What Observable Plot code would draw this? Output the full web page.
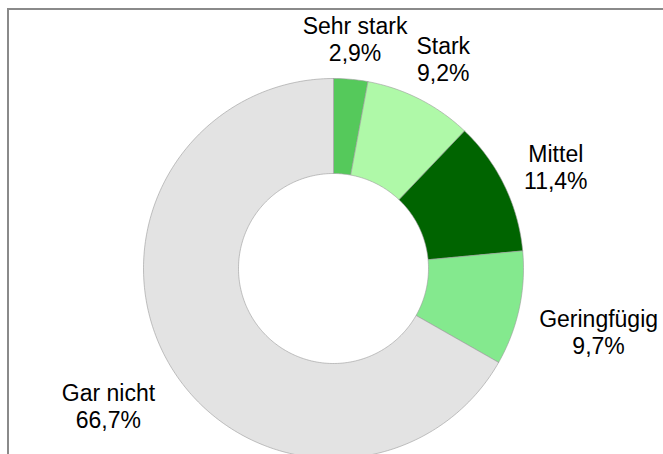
<!DOCTYPE html>
<html>
<head>
<meta charset="utf-8">
<script src="https://cdn.jsdelivr.net/npm/d3@7"></script>
<script src="https://cdn.jsdelivr.net/npm/@observablehq/plot@0.6"></script>
<style>
  html, body { margin: 0; padding: 0; background: #fff; }
  #wrap { position: relative; width: 663px; height: 454px; overflow: hidden; }
  #wrap svg { position: absolute; left: 0; top: 0; }
  #frame { position: absolute; left: 7px; top: 8px; width: 800px; height: 600px;
           border-left: 2px solid #8a8a8a; border-top: 2px solid #8a8a8a; pointer-events: none; }
</style>
</head>
<body>
<div id="wrap"><div id="frame"></div></div>
<script>
// ---- data ----
const categories = ["Sehr stark", "Stark", "Mittel", "Geringfügig", "Gar nicht"];
const values = [2.9, 9.2, 11.4, 9.7, 66.7];
const colors = ["#55c95b", "#aff9a8", "#006400", "#84e98e", "#e3e3e3"];

// ---- geometry (unit radius) ----
const outerR = 1, innerR = 0.5;
const pxPerUnit = 190;
const W = 663, H = 454, cx = 333, cy = 268;
const fontSize = 23;
const fontFamily = "'Liberation Sans', Arial, Helvetica, sans-serif";

const pie = d3.pie().sort(null).value(d => d)(values);

const pts = [];
pie.forEach((s, i) => {
  const n = Math.max(4, Math.ceil((s.endAngle - s.startAngle) / (Math.PI / 180)));
  const ring = [];
  for (let k = 0; k <= n; k++) {
    const a = s.startAngle + (s.endAngle - s.startAngle) * k / n;
    ring.push([outerR * Math.sin(a), outerR * Math.cos(a)]);
  }
  for (let k = n; k >= 0; k--) {
    const a = s.startAngle + (s.endAngle - s.startAngle) * k / n;
    ring.push([innerR * Math.sin(a), innerR * Math.cos(a)]);
  }
  ring.push(ring[0]);
  ring.forEach(([x, y]) => pts.push({cat: categories[i], x, y}));
});

// label placement: outside the ring along the mid-angle, pushed by the text box size
const ctx = document.createElement("canvas").getContext("2d");
ctx.font = `${fontSize}px ${fontFamily}`;
const gap = 18;
const lineH = 27;
const labels = pie.map((s, i) => {
  const pct = values[i].toFixed(1).replace(".", ",") + "%";
  const text = categories[i] + "\n" + pct;
  const w = Math.max(ctx.measureText(categories[i]).width, ctx.measureText(pct).width);
  const h = 2 * lineH - 6;
  const a = (s.startAngle + s.endAngle) / 2;
  const rPx = outerR * pxPerUnit + gap + (w / 2) * Math.abs(Math.sin(a)) + (h / 2) * Math.abs(Math.cos(a));
  const r = rPx / pxPerUnit;
  return {text, x: r * Math.sin(a), y: r * Math.cos(a)};
});

const chart = Plot.plot({
  width: W,
  height: H,
  margin: 0,
  style: {background: "transparent", fontFamily},
  x: {domain: [-cx / pxPerUnit, (W - cx) / pxPerUnit], axis: null},
  y: {domain: [-(H - cy) / pxPerUnit, cy / pxPerUnit], axis: null},
  color: {domain: categories, range: colors},
  marks: [
    Plot.line(pts, {x: "x", y: "y", z: "cat", fill: "cat", stroke: "#9a9a9a", strokeWidth: 0.6, curve: "linear"}),
    Plot.text(labels, {x: "x", y: "y", text: "text", fontSize, lineHeight: lineH / fontSize,
                       lineAnchor: "middle", textAnchor: "middle", dy: 6, fill: "#000"})
  ]
});
document.getElementById("wrap").insertBefore(chart, document.getElementById("frame"));
</script>
</body>
</html>
